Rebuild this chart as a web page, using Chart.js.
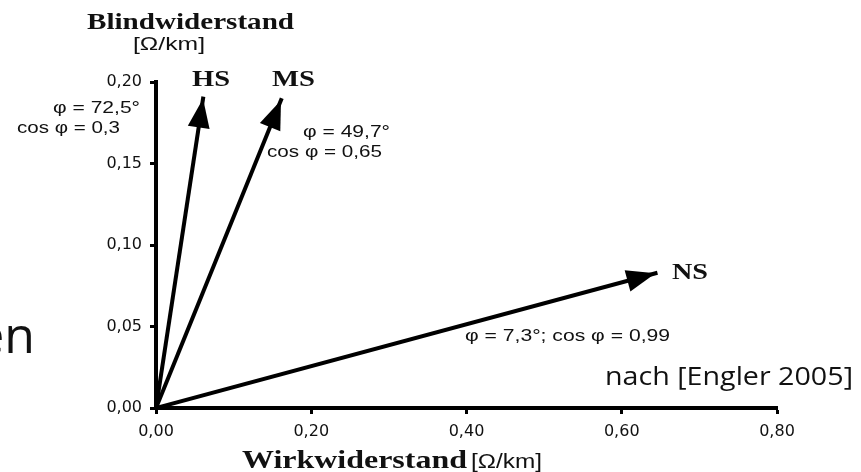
<!DOCTYPE html>
<html>
<head>
<meta charset="utf-8">
<script src="https://cdn.jsdelivr.net/npm/chart.js@4.4.1/dist/chart.umd.min.js"></script>
<style>
  html, body { margin: 0; padding: 0; background: #fff; }
  #wrap { width: 861px; height: 472px; position: relative; }
</style>
</head>
<body>
<div id="wrap"><canvas id="chart" width="861" height="472"></canvas></div>
<script>
// Zeiger der Leitungsimpedanz je Spannungsebene
const levels = ["HS", "MS", "NS"];
const resistance = [0.061, 0.162, 0.646];   // Wirkwiderstand [Ω/km]
const reactance = [0.191, 0.190, 0.083];    // Blindwiderstand [Ω/km]
const angleText = [
    ["φ = 72,5°", "cos φ = 0,3"],
    ["φ = 49,7°", "cos φ = 0,65"],
    ["φ = 7,3°; cos φ = 0,99"],
];
const xTicks = [0, 0.2, 0.4, 0.6, 0.8];
const yTicks = [0, 0.05, 0.1, 0.15, 0.2];

const fmt = (v) => Number(v).toFixed(2).replace(".", ",");

// text drawn squeezed/stretched to a given width (the original figure is stretched)
function fitText(ctx, text, left, right, baseline, font) {
    ctx.font = font;
    const w = ctx.measureText(text).width;
    ctx.save();
    ctx.translate(left, baseline);
    ctx.scale((right - left) / w, 1);
    ctx.textAlign = "left";
    ctx.textBaseline = "alphabetic";
    ctx.fillText(text, 0, 0);
    ctx.restore();
}

const arrowHeads = {
    id: "arrowHeads",
    afterDatasetsDraw(chart) {
        const ctx = chart.ctx;
        chart.data.datasets.forEach((ds, i) => {
            const pts = chart.getDatasetMeta(i).data;
            const a = pts[pts.length - 2];
            const b = pts[pts.length - 1];
            const ang = Math.atan2(b.y - a.y, b.x - a.x);
            const len = 31, half = 11;
            ctx.save();
            ctx.translate(b.x, b.y);
            ctx.rotate(ang);
            ctx.beginPath();
            ctx.moveTo(-2, 0);
            ctx.lineTo(-len, -half);
            ctx.lineTo(-len, half);
            ctx.closePath();
            ctx.fillStyle = "#000";
            ctx.fill();
            ctx.restore();
        });
    },
};

const labelsPlugin = {
    id: "labelsPlugin",
    afterDraw(chart) {
        const ctx = chart.ctx;
        const serifB = "bold 24px 'Liberation Serif'";
        const sans = "17px 'Liberation Sans'";
        ctx.save();
        ctx.fillStyle = "#111";

        // axis titles
        fitText(ctx, "Blindwiderstand", 87, 294, 29, serifB);
        fitText(ctx, "[Ω/km]", 133, 205, 50, "19px 'Liberation Sans'");
        fitText(ctx, "Wirkwiderstand", 242, 467, 468, "bold 25px 'Liberation Serif'");
        fitText(ctx, "[Ω/km]", 471, 542, 468, "20px 'Liberation Sans'");

        // vector names
        fitText(ctx, levels[0], 192, 230, 86, serifB);
        fitText(ctx, levels[1], 272, 315, 86, serifB);
        fitText(ctx, levels[2], 672, 708, 279, serifB);

        // angle annotations
        fitText(ctx, angleText[0][0], 53, 140, 113, sans);
        fitText(ctx, angleText[0][1], 17, 120, 133, sans);
        fitText(ctx, angleText[1][0], 303, 390, 137, sans);
        fitText(ctx, angleText[1][1], 267, 382, 157, sans);
        fitText(ctx, angleText[2][0], 465, 670, 341, sans);

        // slide text
        fitText(ctx, "nach [Engler 2005]", 605, 853, 385, "26px 'Open Sans'");
        ctx.font = "50px 'Open Sans'";
        ctx.textAlign = "right";
        ctx.textBaseline = "alphabetic";
        ctx.fillText("en", 35, 353);
        ctx.restore();
    },
};

const datasets = levels.map((name, i) => ({
    label: name,
    data: [
        { x: 0, y: 0 },
        { x: resistance[i], y: reactance[i] },
    ],
    showLine: true,
    borderColor: "#000",
    borderWidth: 4,
    pointRadius: 0,
    borderCapStyle: "butt",
}));

const tickFont = { family: "DejaVu Sans", size: 16 };

new Chart(document.getElementById("chart"), {
    type: "scatter",
    data: { datasets },
    options: {
        responsive: false,
        animation: false,
        layout: { padding: { left: 0, right: 84, top: 82, bottom: 0 } },
        plugins: {
            legend: { display: false },
            tooltip: { enabled: false },
        },
        scales: {
            x: {
                type: "linear",
                min: 0,
                max: 0.8,
                afterBuildTicks: (s) => { s.ticks = xTicks.map((v) => ({ value: v })); },
                afterFit: (s) => { s.height = 64; },
                ticks: {
                    callback: (v) => fmt(v),
                    font: tickFont,
                    color: "#111",
                    padding: 8,
                    maxRotation: 0,
                },
                grid: {
                    drawOnChartArea: false,
                    drawTicks: true,
                    tickLength: 6,
                    tickWidth: 3,
                    tickColor: "#000",
                },
                border: { display: true, color: "#000", width: 4 },
            },
            y: {
                type: "linear",
                min: 0,
                max: 0.2,
                afterBuildTicks: (s) => { s.ticks = yTicks.map((v) => ({ value: v })); },
                afterFit: (s) => { s.width = 156; },
                ticks: {
                    callback: (v) => fmt(v),
                    font: tickFont,
                    color: "#111",
                    padding: 8,
                },
                grid: {
                    drawOnChartArea: false,
                    drawTicks: true,
                    tickLength: 6,
                    tickWidth: 3,
                    tickColor: "#000",
                },
                border: { display: true, color: "#000", width: 4 },
            },
        },
    },
    plugins: [arrowHeads, labelsPlugin],
});
</script>
</body>
</html>
